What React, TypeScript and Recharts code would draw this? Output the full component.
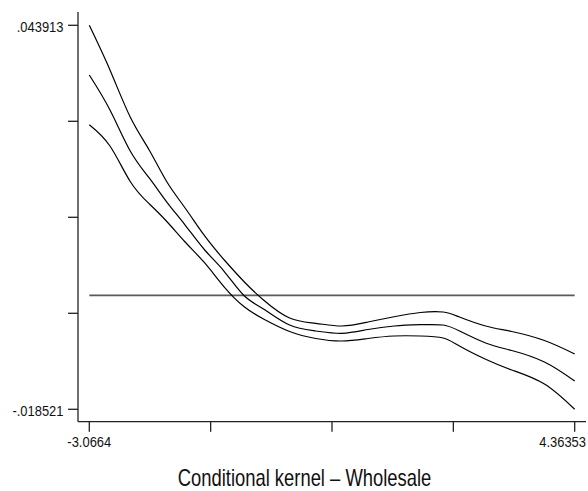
import React from "react";
import { LineChart, Line, XAxis, YAxis, ReferenceLine } from "recharts";

// grid of x values
const xs = [-3.0664, -2.75, -2.44, -2.15, -1.88, -1.6, -1.3, -1.0, -0.7, -0.4, 0.0, 0.4, 0.8, 1.2, 1.6, 2.0, 2.35, 2.6, 3.0, 3.4, 3.9, 4.36353];

const upper = [0.043913, 0.03665, 0.029, 0.02364, 0.01848, 0.01421, 0.00966, 0.00575, 0.00226, -0.00075, -0.00368, -0.00454, -0.00498, -0.00433, -0.00347, -0.00278, -0.0027, -0.00352, -0.00498, -0.00587, -0.00734, -0.00953];
const middle = [0.03583, 0.03014, 0.02348, 0.01909, 0.01518, 0.01144, 0.00738, 0.00388, -0.00002, -0.00221, -0.00482, -0.00579, -0.00617, -0.00555, -0.00498, -0.00477, -0.00482, -0.00579, -0.00774, -0.00896, -0.01083, -0.01392];
const lower = [0.02775, 0.02429, 0.01852, 0.01489, 0.01201, 0.00868, 0.00527, 0.00136, -0.00181, -0.00384, -0.00587, -0.00701, -0.00742, -0.00701, -0.0066, -0.0066, -0.00693, -0.00823, -0.01039, -0.01213, -0.01441, -0.01852];

const xTicks = [-3.0664, -1.2088, 0.6486, 2.5061, 4.36353];
const xTickLabels = ["-3.0664", "", "", "", "4.36353"];
const yTicks = [-0.018521, -0.002913, 0.012696, 0.028304, 0.043913];
const yTickLabels = ["-.018521", "", "", "", ".043913"];

const baseline = 0;
const title = "Conditional kernel \u2013 Wholesale";

const data = xs.map((x, i) => ({ x, upper: upper[i], middle: middle[i], lower: lower[i] }));

const FONT = "'Liberation Sans', Arial, sans-serif";

const YTick = (props: any) => {
    const { x, y, payload } = props;
    const label = yTickLabels[yTicks.indexOf(payload.value)];
    if (!label) return <g />;
    return (
        <text transform={`translate(${x - 2.5},${y + 6.8}) scale(0.84,1)`} textAnchor="end"
            fontFamily={FONT} fontSize={15.4} fill="#111">{label}</text>
    );
};

const XTick = (props: any) => {
    const { x, y, payload } = props;
    const idx = xTicks.indexOf(payload.value);
    const label = xTickLabels[idx];
    if (!label) return <g />;
    const last = idx === xTicks.length - 1;
    return (
        <text transform={`translate(${last ? x + 11.3 : x},${y + 13}) scale(0.84,1)`}
            textAnchor={last ? "end" : "middle"} fontFamily={FONT} fontSize={15.4} fill="#111">{label}</text>
    );
};

const App = () => {
    return (
        <div>
            <style>{"body{margin:0}"}</style>
            <LineChart width={588} height={491} data={data}
                margin={{ top: 12, right: 2, bottom: 39.3, left: 0 }}>
                <XAxis type="number" dataKey="x" domain={[-3.2394, 4.5366]} ticks={xTicks}
                    tick={<XTick />} tickSize={10} height={30} interval={0}
                    stroke="#222" strokeWidth={1.3}
                    label={{
                        content: () => (
                            <text transform="translate(304.5,486) scale(0.8,1)" textAnchor="middle"
                                fontFamily={FONT} fontSize={23} fill="#111">{title}</text>
                        )
                    }} />
                <YAxis type="number" domain={[-0.020538, 0.046075]} ticks={yTicks}
                    tick={<YTick />} tickSize={10} width={78} interval={0}
                    stroke="#222" strokeWidth={1.3} />
                <ReferenceLine segment={[{ x: xs[0], y: baseline }, { x: xs[xs.length - 1], y: baseline }]}
                    stroke="#5a5a5a" strokeWidth={1.6} />
                <Line dataKey="upper" type="natural" stroke="#000" strokeWidth={1.2} dot={false} isAnimationActive={false} />
                <Line dataKey="middle" type="natural" stroke="#000" strokeWidth={1.2} dot={false} isAnimationActive={false} />
                <Line dataKey="lower" type="natural" stroke="#000" strokeWidth={1.2} dot={false} isAnimationActive={false} />
            </LineChart>
        </div>
    );
};

export default App;
